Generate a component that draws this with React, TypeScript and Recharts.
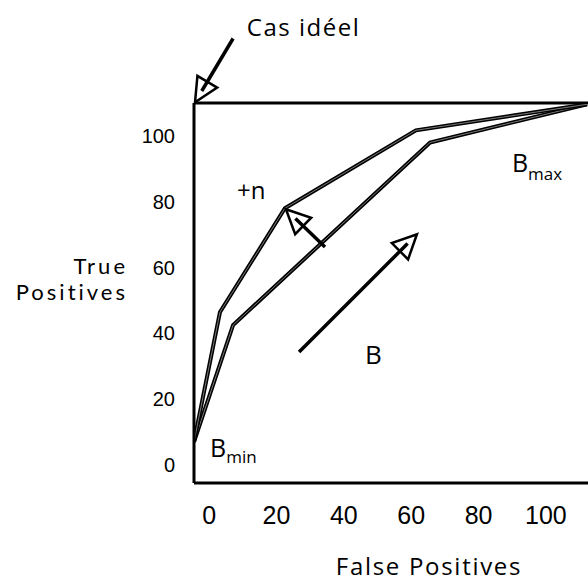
import React from 'react';
import { LineChart, Line, XAxis, YAxis, ReferenceLine, ReferenceDot } from 'recharts';

// ---- data ----
const xTicks = [0, 20, 40, 60, 80, 100];
const yTicks = [0, 20, 40, 60, 80, 100];
const xDomain: [number, number] = [-4.5, 112.5];
const yDomain: [number, number] = [-5.5, 110];

const upperFP = [-4.5, 3.2, 22.5, 61.4, 112.2];
const upperTP = [7, 46.4, 78, 101.7, 109.6];
const lowerFP = [-4.5, 7.1, 65.6, 112.2];
const lowerTP = [7, 42.5, 98, 109.6];
const idealTP = 110;

const arrowFrom = [[7.1, 129.6], [34.4, 66.2], [26.7, 34.3]];
const arrowTo = [[-4.2, 110.2], [22.8, 77.7], [61.7, 70.1]];

const labelText = ['Cas idéel', '+n', 'B', 'B', 'B'];
const labelSub = ['', '', '', 'max', 'min'];
const labelX = [11.2, 8.3, 46.3, 89.9, 0.25];
const labelY = [130.4, 80.8, 30.7, 89.0, 2.4];

const upperData = upperFP.map((fp, i) => ({ fp, tp: upperTP[i] }));
const lowerData = lowerFP.map((fp, i) => ({ fp, tp: lowerTP[i] }));

const TEXT_FONT = '"Open Sans", "Noto Sans", sans-serif';
const TITLE_FONT = 'Lato, "Open Sans", sans-serif';
const NUM_FONT = '"Liberation Sans", Arial, sans-serif';

const Arrow = (props: any) => {
  const { x1, y1, x2, y2 } = props;
  const dx = x2 - x1;
  const dy = y2 - y1;
  const len = Math.hypot(dx, dy) || 1;
  const ux = dx / len;
  const uy = dy / len;
  const hl = 24;
  const hw = 11.5;
  const bx = x2 - ux * hl;
  const by = y2 - uy * hl;
  const px = -uy;
  const py = ux;
  const pts = `${x2},${y2} ${bx + px * hw},${by + py * hw} ${bx - px * hw},${by - py * hw}`;
  const sx = x2 - ux * hl * 0.55;
  const sy = y2 - uy * hl * 0.55;
  return (
    <g>
      <polygon points={pts} fill="#fff" stroke="#000" strokeWidth={2.5} strokeLinejoin="miter" />
      <line x1={x1} y1={y1} x2={sx} y2={sy} stroke="#000" strokeWidth={3.5} />
    </g>
  );
};

const makeLabel = (i: number) => (props: any) => {
  const { cx, cy } = props;
  const big = labelSub[i] ? 25 : i === 2 ? 26 : 24;
  return (
    <text
      x={cx}
      y={cy}
      fontFamily={TEXT_FONT}
      fontSize={big}
      fill="#000"
      letterSpacing={i === 0 ? 1.5 : 0}
    >
      {labelText[i]}
      {labelSub[i] ? (
        <tspan fontSize={17} dy={i === 3 ? 8 : 6}>
          {labelSub[i]}
        </tspan>
      ) : null}
    </text>
  );
};

const YTitle = (props: any) => {
  const vb = props.viewBox || { x: 0, y: 103, width: 194, height: 380 };
  const rx = vb.x + vb.width - 66;
  const cy = vb.y + vb.height / 2;
  return (
    <g>
      <text x={rx} y={cy - 19} fontFamily={TITLE_FONT} fontSize={22} fill="#000" textAnchor="end" letterSpacing={3}>
        True
      </text>
      <text x={rx} y={cy + 7} fontFamily={TITLE_FONT} fontSize={22} fill="#000" textAnchor="end" letterSpacing={3}>
        Positives
      </text>
    </g>
  );
};

const XTitle = (props: any) => {
  const vb = props.viewBox || { x: 194, y: 483, width: 394, height: 101 };
  return (
    <text
      x={vb.x + vb.width / 2 + 38}
      y={vb.y + 92}
      fontFamily={TEXT_FONT}
      fontSize={24}
      fill="#000"
      textAnchor="middle"
      letterSpacing={1.7}
    >
      False Positives
    </text>
  );
};

export default function App() {
  return (
    <div style={{ position: 'fixed', left: 0, top: 0, width: 588, height: 584, background: '#fff' }}>
      <LineChart width={588} height={584} margin={{ top: 103, right: 0, bottom: 0, left: 0 }}>
        <XAxis
          type="number"
          dataKey="fp"
          domain={xDomain}
          ticks={xTicks}
          allowDataOverflow
          height={101}
          tickLine={false}
          tickMargin={17}
          axisLine={{ stroke: '#000', strokeWidth: 3 }}
          tick={{ fill: '#000', fontSize: 25, fontFamily: NUM_FONT }}
          label={XTitle}
        />
        <YAxis
          type="number"
          dataKey="tp"
          domain={yDomain}
          ticks={yTicks}
          allowDataOverflow
          width={194}
          tickLine={false}
          tickMargin={13}
          axisLine={{ stroke: '#000', strokeWidth: 3 }}
          tick={{ fill: '#000', fontSize: 20, fontFamily: NUM_FONT }}
          label={YTitle}
        />
        <ReferenceLine y={idealTP} stroke="#000" strokeWidth={3} ifOverflow="visible" />
        <Line data={lowerData} dataKey="tp" stroke="#000" strokeWidth={4} dot={false} isAnimationActive={false} strokeLinejoin="miter" />
        <Line data={lowerData} dataKey="tp" stroke="#fff" strokeWidth={0.8} strokeOpacity={0.6} dot={false} isAnimationActive={false} />
        <Line data={upperData} dataKey="tp" stroke="#000" strokeWidth={4} dot={false} isAnimationActive={false} strokeLinejoin="miter" />
        <Line data={upperData} dataKey="tp" stroke="#fff" strokeWidth={0.8} strokeOpacity={0.6} dot={false} isAnimationActive={false} />
        {arrowFrom.map((f, i) => (
          <ReferenceLine
            key={'arrow' + i}
            segment={[
              { x: f[0], y: f[1] },
              { x: arrowTo[i][0], y: arrowTo[i][1] },
            ]}
            ifOverflow="visible"
            shape={Arrow}
          />
        ))}
        {labelText.map((t, i) => (
          <ReferenceDot
            key={'lab' + i}
            x={labelX[i]}
            y={labelY[i]}
            r={1}
            ifOverflow="visible"
            shape={makeLabel(i)}
          />
        ))}
      </LineChart>
    </div>
  );
}
